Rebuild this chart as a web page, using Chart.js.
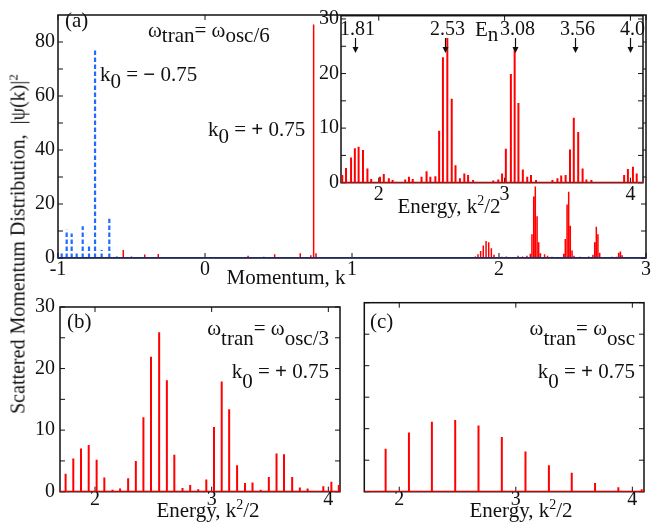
<!DOCTYPE html>
<html>
<head>
<meta charset="utf-8">
<script src="https://cdn.jsdelivr.net/npm/chart.js@4.4.1/dist/chart.umd.min.js"></script>
<style>
  body { margin: 0; background: #fff; }
  #fig { position: relative; width: 652px; height: 527px; overflow: hidden;
         font-family: "Liberation Serif", "DejaVu Serif", serif; color: #111; }
  #fig canvas { position: absolute; }
  .txt { position: absolute; font-size: 21px; line-height: 21px; white-space: nowrap; }
  .ctr { transform: translateX(-50%); }
  .sub { position: relative; }
  .sup { font-size: 14px; position: relative; top: -8px; }
  .ytitle { position: absolute; font-size: 20px; line-height: 20px; white-space: nowrap;
            transform: translate(-50%, -50%) rotate(-90deg); }
</style>
</head>
<body>
<div id="fig">
  <canvas id="chartA" width="652" height="300" style="left:0;top:0"></canvas>
  <canvas id="chartInset" width="352" height="225" style="left:300px;top:0"></canvas>
  <canvas id="chartB" width="345" height="237" style="left:0;top:290px"></canvas>
  <canvas id="chartC" width="307" height="237" style="left:345px;top:290px"></canvas>

  <div class="ytitle" style="left:19px;top:244px">Scattered Momentum Distribution,&nbsp;&nbsp;|ψ(k)|<span class="sup" style="font-size:13px;top:-7px">2</span></div>

  <div class="txt" style="left:65px;top:10px">(a)</div>
  <div class="txt" style="left:148px;top:20px">ω<span class="sub" style="top:5px">tran</span>= ω<span class="sub" style="top:5px">osc/6</span></div>
  <div class="txt" style="left:100px;top:64px">k<span class="sub" style="top:7px">0</span> = <b>−</b> 0.75</div>
  <div class="txt" style="left:208px;top:119px">k<span class="sub" style="top:7px">0</span> = <b>+</b> 0.75</div>
  <div class="txt" style="left:475px;top:19px">E<span class="sub" style="top:5px">n</span></div>
  <div class="txt ctr" style="left:449px;top:196px">Energy, k<span class="sup">2</span>/2</div>
  <div class="txt ctr" style="left:286px;top:267px">Momentum, k</div>

  <div class="txt" style="left:67px;top:311px">(b)</div>
  <div class="txt" style="right:323px;top:318px">ω<span class="sub" style="top:10px">tran</span>= ω<span class="sub" style="top:10px">osc/3</span></div>
  <div class="txt" style="right:323px;top:361px">k<span class="sub" style="top:10px">0</span> = <b>+</b> 0.75</div>
  <div class="txt ctr" style="left:208px;top:500px">Energy, k<span class="sup">2</span>/2</div>

  <div class="txt" style="left:370px;top:311px">(c)</div>
  <div class="txt" style="right:17px;top:318px">ω<span class="sub" style="top:10px">tran</span>= ω<span class="sub" style="top:10px">osc</span></div>
  <div class="txt" style="right:17px;top:361px">k<span class="sub" style="top:10px">0</span> = <b>+</b> 0.75</div>
  <div class="txt ctr" style="left:521px;top:500px">Energy, k<span class="sup">2</span>/2</div>
</div>

<script>
// ---- data ----

// panel (a): momentum distribution, omega_tran = omega_osc/6
const momentumRange = [-1, 3];
const momentumTicks = [-1, 0, 1, 2, 3];
const momentumYTicks = [0, 10, 20, 30, 40, 50, 60, 70, 80];

// k0 = -0.75 (blue dashed)
const blueK = [-0.975, -0.941, -0.907, -0.873, -0.832, -0.789, -0.748, -0.703, -0.651, -0.600];
const blueV = [1.8, 10.5, 9.1, 1.8, 11.8, 4.5, 77.8, 3.0, 14.5, 0.6];

// k0 = +0.75 (red)
const redK = [-0.556, -0.50, -0.41, -0.318, -0.20, 0.293, 0.40, 0.474, 0.648, 0.72, 0.739, 0.755,
  1.25, 1.50, 1.75,
  1.839, 1.857, 1.875, 1.893, 1.912, 1.930, 1.948, 1.966, 1.984,
  2.02, 2.05, 2.10, 2.13, 2.16,
  2.19, 2.213, 2.224, 2.236, 2.247, 2.259, 2.270, 2.282, 2.31, 2.33,
  2.36, 2.40,
  2.440, 2.451, 2.463, 2.474, 2.485, 2.497, 2.51,
  2.55, 2.58, 2.61,
  2.639, 2.651, 2.662, 2.673, 2.685,
  2.74, 2.77,
  2.80, 2.814, 2.826, 2.838, 2.90];
const redV = [3.0, 0.6, 1.3, 1.5, 0.4, 0.8, 0.5, 1.4, 1.8, 1.0, 86.5, 1.8,
  0.3, 0.4, 0.3,
  0.6, 1.4, 2.6, 4.6, 6.3, 5.8, 3.6, 1.2, 0.4,
  0.5, 0.6, 0.4, 0.8, 0.6,
  0.8, 1.6, 8.8, 22.8, 26.5, 15.5, 5.8, 1.8, 1.4, 0.8,
  0.5, 0.4,
  1.6, 7.0, 19.8, 24.5, 11.9, 2.8, 0.8,
  0.5, 0.4, 0.6,
  1.2, 5.8, 11.6, 8.8, 1.9,
  0.4, 0.5,
  0.5, 1.9, 2.4, 1.0, 0.3];

// inset: energy distribution, omega_tran = omega_osc/6
const energyRange = [1.7, 4.1];
const energyTicks = [2, 3, 4];
const energyYTicks = [0, 5, 10, 15, 20, 25, 30];
const insetE = [1.71, 1.74, 1.78, 1.81, 1.84, 1.875, 1.91, 1.94, 2.01, 2.04, 2.08, 2.11,
  2.21, 2.24, 2.27, 2.34, 2.38, 2.41, 2.45, 2.48, 2.51, 2.545, 2.58, 2.61, 2.645, 2.68, 2.71, 2.75,
  2.91, 2.95, 2.98, 3.01, 3.05, 3.08, 3.11, 3.145, 3.18, 3.21, 3.25,
  3.38, 3.42, 3.45, 3.485, 3.52, 3.55, 3.585, 3.62, 3.65, 3.69,
  3.95, 3.98, 4.02, 4.05];
const insetV = [1.4, 2.7, 4.6, 6.3, 6.6, 6.0, 2.6, 0.7, 1.1, 1.6, 0.8, 0.5,
  0.6, 1.1, 0.7, 1.1, 2.1, 1.1, 1.2, 9.5, 23.0, 26.5, 15.4, 3.2, 0.8, 1.7, 1.4, 0.5,
  0.4, 0.6, 1.7, 6.2, 19.9, 24.7, 14.6, 2.4, 1.1, 1.4, 0.5,
  0.5, 0.8, 1.3, 1.4, 6.1, 11.9, 9.3, 2.6, 0.6, 0.5,
  1.4, 2.5, 2.9, 1.7];
const levelEn = [1.81, 2.53, 3.08, 3.56, 4.0];
const levelLabels = ["1.81", "2.53", "3.08", "3.56", "4.0"];

// panel (b): omega_tran = omega_osc/3
const bE = [1.748, 1.814, 1.88, 1.946, 2.014, 2.08, 2.15, 2.215, 2.284, 2.35,
  2.415, 2.48, 2.55, 2.616, 2.68, 2.75, 2.816, 2.885, 2.954, 3.02,
  3.086, 3.15, 3.218, 3.286, 3.35, 3.42, 3.49, 3.556, 3.62, 3.69,
  3.756, 3.822, 3.957, 4.026, 4.09];
const bV = [2.9, 5.4, 7.0, 7.6, 5.2, 2.3, 0.3, 0.5, 2.2, 5.0,
  12.1, 21.9, 25.9, 18.1, 6.0, 0.6, 1.1, 0.4, 2.0, 10.5,
  17.9, 13.4, 4.3, 1.4, 1.5, 0.3, 2.4, 6.2, 6.1, 2.4,
  0.7, 0.5, 0.9, 1.6, 1.1];

// panel (c): omega_tran = omega_osc
const cE = [1.883, 2.083, 2.28, 2.48, 2.68, 2.88, 3.083, 3.284, 3.48, 3.68, 3.88, 4.08];
const cV = [6.8, 9.4, 11.1, 11.4, 10.5, 8.7, 6.4, 4.2, 3.0, 1.4, 0.7, 0.4];

// ---- helpers ----
const FONT = { family: '"Liberation Serif", "DejaVu Serif", serif', size: 20 };
const RED = "#ff0000";
const BLUE = "#1f6cff";
const NAVY = "#1b2a6e";

// continuous path: baseline with a vertical spike at every x
function spikePath(xs, ys, x0, x1) {
  const pts = [{ x: x0, y: 0 }];
  xs.forEach((x, i) => {
    pts.push({ x: x, y: 0 }, { x: x, y: ys[i] }, { x: x, y: 0 });
  });
  pts.push({ x: x1, y: 0 });
  return pts;
}

// separate vertical segments (so dashes restart per spike)
function spikeSegments(xs, ys) {
  const pts = [];
  xs.forEach((x, i) => {
    pts.push({ x: x, y: 0 }, { x: x, y: ys[i] }, { x: x, y: null });
  });
  return pts;
}

// box frame with inward tick marks
const framePlugin = {
  id: "frame",
  beforeDraw(chart) {
    const { ctx, chartArea: a } = chart;
    ctx.save();
    ctx.fillStyle = "#fff";
    ctx.fillRect(a.left, a.top, a.right - a.left, a.bottom - a.top);
    ctx.restore();
  },
  beforeDatasetsDraw(chart, args, opts) {
    const { ctx, chartArea: a, scales } = chart;
    const L = 5;
    ctx.save();
    ctx.strokeStyle = "#111";
    ctx.lineWidth = opts.lineWidth || 1.5;
    ctx.strokeRect(a.left, a.top, a.right - a.left, a.bottom - a.top);
    ctx.lineWidth = 1;
    ctx.beginPath();
    scales.x.ticks.forEach((t) => {
      const px = scales.x.getPixelForValue(t.value);
      ctx.moveTo(px, a.bottom);
      ctx.lineTo(px, a.bottom - L);
      ctx.moveTo(px, a.top);
      ctx.lineTo(px, a.top + L);
    });
    scales.y.ticks.forEach((t) => {
      const py = scales.y.getPixelForValue(t.value);
      ctx.moveTo(a.left, py);
      ctx.lineTo(a.left + L, py);
      ctx.moveTo(a.right, py);
      ctx.lineTo(a.right - L, py);
    });
    ctx.stroke();
    ctx.restore();
  },
};

// arrows marking the energy levels in the inset
const levelPlugin = {
  id: "levels",
  afterDraw(chart, args, opts) {
    if (!opts.values) return;
    const { ctx, scales } = chart;
    ctx.save();
    ctx.fillStyle = "#111";
    ctx.strokeStyle = "#111";
    ctx.lineWidth = 1.2;
    ctx.font = '20px "Liberation Serif"';
    ctx.textAlign = "center";
    ctx.textBaseline = "alphabetic";
    opts.values.forEach((v, i) => {
      const px = Math.round(scales.x.getPixelForValue(v)) + 0.5;
      ctx.fillText(opts.labels[i], px + 2, opts.textY);
      ctx.beginPath();
      ctx.moveTo(px, opts.y0);
      ctx.lineTo(px, opts.y1 - 4);
      ctx.stroke();
      ctx.beginPath();
      ctx.moveTo(px - 3, opts.y1 - 6);
      ctx.lineTo(px + 3, opts.y1 - 6);
      ctx.lineTo(px, opts.y1);
      ctx.closePath();
      ctx.fill();
    });
    ctx.restore();
  },
};

function axisX(range, ticks, height, pad) {
  return {
    type: "linear",
    min: range[0],
    max: range[1],
    afterBuildTicks: (s) => { s.ticks = ticks.map((v) => ({ value: v })); },
    afterFit: (s) => { s.height = height; },
    grid: { display: false, drawTicks: false },
    border: { display: false },
    ticks: { font: FONT, color: "#111", padding: pad, autoSkip: false, maxRotation: 0,
             callback: (v) => String(v) },
  };
}

function axisY(max, ticks, labelEvery, width, pad, showLabels) {
  return {
    type: "linear",
    min: 0,
    max: max,
    afterBuildTicks: (s) => { s.ticks = ticks.map((v) => ({ value: v })); },
    afterFit: (s) => { s.width = width; },
    grid: { display: false, drawTicks: false },
    border: { display: false },
    ticks: { display: showLabels, font: FONT, color: "#111", padding: pad, autoSkip: false,
             callback: (v) => (v % labelEvery === 0 ? String(v) : "") },
  };
}

function makeChart(id, datasets, scales, padding, extra) {
  return new Chart(document.getElementById(id), {
    type: "scatter",
    data: { datasets: datasets },
    options: {
      responsive: false,
      animation: false,
      devicePixelRatio: 1,
      layout: { padding: padding },
      scales: scales,
      elements: { point: { radius: 0 }, line: { tension: 0, borderJoinStyle: "bevel" } },
      plugins: Object.assign({ legend: { display: false }, tooltip: { enabled: false } }, extra || {}),
    },
    plugins: [framePlugin, levelPlugin],
  });
}

// ---- panel (a) ----
makeChart("chartA", [
  { data: [{ x: momentumRange[0], y: 0 }, { x: momentumRange[1], y: 0 }],
    showLine: true, borderColor: NAVY, borderWidth: 2, order: 0 },
  { data: spikeSegments(blueK, blueV), showLine: true, spanGaps: false,
    borderColor: BLUE, borderWidth: 2.2, borderDash: [4.5, 2.5], order: 1 },
  { data: spikePath(redK, redV, momentumRange[0], momentumRange[1]), showLine: true,
    borderColor: RED, borderWidth: 1.5, order: 2 },
], {
  x: axisX(momentumRange, momentumTicks, 42, 0),
  y: axisY(90, momentumYTicks, 20, 58, 3, true),
}, { top: 11, right: 6, left: 0, bottom: 0 });

// ---- inset ----
makeChart("chartInset", [
  { data: spikePath(insetE, insetV, energyRange[0], energyRange[1]), showLine: true,
    borderColor: RED, borderWidth: 2 },
], {
  x: axisX(energyRange, energyTicks, 42.3, 0),
  y: axisY(30.6, energyYTicks, 10, 41, 2, true),
}, { top: 15.7, right: 9, left: 0, bottom: 0 },
{ levels: { values: levelEn, labels: levelLabels, textY: 35, y0: 38, y1: 53 } });

// ---- panel (b) ----
makeChart("chartB", [
  { data: spikePath(bE, bV, energyRange[0], energyRange[1]), showLine: true,
    borderColor: RED, borderWidth: 2 },
], {
  x: axisX(energyRange, energyTicks, 35.3, -4),
  y: axisY(30, energyYTicks, 10, 60, 5, true),
}, { top: 12.7, right: 5, left: 0, bottom: 0 });

// ---- panel (c) ----
makeChart("chartC", [
  { data: spikePath(cE, cV, energyRange[0], energyRange[1]), showLine: true,
    borderColor: RED, borderWidth: 2 },
], {
  x: axisX(energyRange, energyTicks, 35.3, -4),
  y: axisY(30, energyYTicks, 10, 19.3, 0, false),
}, { top: 12.7, right: 8, left: 0, bottom: 0 });
</script>
</body>
</html>
